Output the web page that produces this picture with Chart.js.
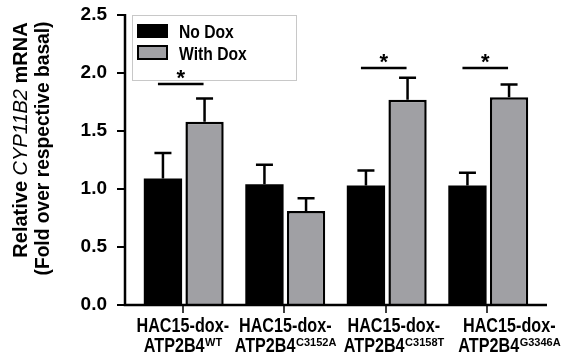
<!DOCTYPE html>
<html>
<head>
<meta charset="utf-8">
<script src="https://cdn.jsdelivr.net/npm/chart.js@4"></script>
<style>
  html, body { margin: 0; padding: 0; background: #fff; }
</style>
</head>
<body>
<canvas id="myChart" width="567" height="361"></canvas>
<script>
// data
const groupLine1 = "HAC15-dox-";
const groupLine2 = "ATP2B4";
const variants = ["WT", "C3152A", "C3158T", "G3346A"];
const seriesNames = ["No Dox", "With Dox"];
const noDox = [1.09, 1.04, 1.03, 1.03];
const withDox = [1.58, 0.81, 1.77, 1.79];
const noDoxErr = [0.22, 0.17, 0.13, 0.11];
const withDoxErr = [0.20, 0.11, 0.19, 0.11];
const sigGroups = [0, 2, 3];
const sigLevels = [1.905, 2.043, 2.043];
const yTicks = [0, 0.5, 1.0, 1.5, 2.0, 2.5];

const FONT = '"Liberation Sans", Arial, sans-serif';
const GREY = "#a0a0a4";
// labels in the figure are not exactly centred under the groups
const labelNudge = [-1, 0, 7, 21];

function drawText(ctx, text, x, y, font, sx, align) {
  ctx.save();
  ctx.font = font;
  const w = ctx.measureText(text).width * sx;
  let left = x;
  if (align === "center") left = x - w / 2;
  else if (align === "right") left = x - w;
  ctx.translate(left, y);
  ctx.scale(sx, 1);
  ctx.textAlign = "left";
  ctx.fillStyle = "#000";
  ctx.fillText(text, 0, 0);
  ctx.restore();
  return w;
}

const decorations = {
  id: "decorations",
  afterDatasetsDraw(chart) {
    const ctx = chart.ctx;
    const y = chart.scales.y;
    const x = chart.scales.x;
    const metaA = chart.getDatasetMeta(0);
    const metaB = chart.getDatasetMeta(1);
    ctx.save();
    ctx.strokeStyle = "#000";

    // error bars (upper only)
    ctx.lineWidth = 2.5;
    [[metaA, noDox, noDoxErr], [metaB, withDox, withDoxErr]].forEach(([meta, vals, errs]) => {
      meta.data.forEach((bar, i) => {
        const top = y.getPixelForValue(vals[i]);
        const cap = y.getPixelForValue(vals[i] + errs[i]);
        ctx.beginPath();
        ctx.moveTo(bar.x, top);
        ctx.lineTo(bar.x, cap);
        ctx.moveTo(bar.x - 8.5, cap);
        ctx.lineTo(bar.x + 8.5, cap);
        ctx.stroke();
      });
    });

    // axes
    const axisX = 125;
    const y0 = y.getPixelForValue(0);
    const yTop = y.getPixelForValue(2.5);
    ctx.lineWidth = 2.5;
    ctx.beginPath();
    ctx.moveTo(axisX, yTop - 1);
    ctx.lineTo(axisX, y0 + 1.2);
    ctx.moveTo(axisX - 1.2, y0);
    ctx.lineTo(547, y0);
    ctx.stroke();
    ctx.lineWidth = 2;
    ctx.beginPath();
    yTicks.forEach(v => {
      const py = y.getPixelForValue(v);
      ctx.moveTo(axisX - 8, py);
      ctx.lineTo(axisX, py);
    });
    ctx.stroke();
    ctx.lineWidth = 1.5;
    ctx.beginPath();
    variants.forEach((v, i) => {
      const px = Math.round(x.getPixelForValue(i)) - 1;
      ctx.moveTo(px, y0);
      ctx.lineTo(px, y0 + 8);
    });
    ctx.stroke();

    // significance bars
    ctx.lineWidth = 2.5;
    sigGroups.forEach((g, k) => {
      const ly = y.getPixelForValue(sigLevels[k]);
      const x1 = metaA.data[g].x - 5;
      const x2 = metaB.data[g].x - 1;
      ctx.beginPath();
      ctx.moveTo(x1, ly);
      ctx.lineTo(x2, ly);
      ctx.stroke();
      ctx.font = "bold 22px " + FONT;
      const m = ctx.measureText("*");
      const starMid = ly - 9.5;
      const base = starMid + (m.actualBoundingBoxAscent - m.actualBoundingBoxDescent) / 2;
      ctx.textAlign = "center";
      ctx.fillStyle = "#000";
      ctx.fillText("*", (x1 + x2) / 2, base);
    });

    // category labels with superscripts
    variants.forEach((v, i) => {
      const cx = x.getPixelForValue(i) + labelNudge[i];
      drawText(ctx, groupLine1, cx, 332, "bold 21px " + FONT, 0.77, "center");
      ctx.font = "bold 21px " + FONT;
      const wMain = ctx.measureText(groupLine2).width * 0.77;
      ctx.font = "bold 11px " + FONT;
      const wSup = ctx.measureText(v).width;
      const left = cx - (wMain + wSup) / 2;
      drawText(ctx, groupLine2, left, 352, "bold 21px " + FONT, 0.77, "left");
      drawText(ctx, v, left + wMain + 0.5, 346, "bold 11px " + FONT, 1, "left");
    });

    // legend
    ctx.lineWidth = 1;
    ctx.strokeStyle = "#c8c8c8";
    ctx.strokeRect(132.5, 15.5, 164, 65);
    ctx.fillStyle = "#000";
    ctx.fillRect(137, 24, 31, 14);
    ctx.fillStyle = GREY;
    ctx.fillRect(138, 46, 29, 13);
    ctx.strokeStyle = "#000";
    ctx.lineWidth = 2;
    ctx.strokeRect(138, 46, 29, 13);
    drawText(ctx, seriesNames[0], 179, 37.5, "bold 18px " + FONT, 0.87, "left");
    drawText(ctx, seriesNames[1], 179, 59.5, "bold 18px " + FONT, 0.87, "left");

    // y-axis title, rotated, with italic gene name
    const parts = [
      ["Relative ", "bold 20px " + FONT],
      ["CYP11B2", "italic 20px " + FONT],
      [" mRNA", "bold 20px " + FONT]
    ];
    ctx.save();
    ctx.translate(27, 140);
    ctx.rotate(-Math.PI / 2);
    let total = 0;
    parts.forEach(p => { ctx.font = p[1]; total += ctx.measureText(p[0]).width; });
    let pos = -total / 2;
    ctx.fillStyle = "#000";
    ctx.textAlign = "left";
    parts.forEach(p => {
      ctx.font = p[1];
      ctx.fillText(p[0], pos, 0);
      pos += ctx.measureText(p[0]).width;
    });
    ctx.restore();
    ctx.save();
    ctx.translate(49, 148.5);
    ctx.rotate(-Math.PI / 2);
    drawText(ctx, "(Fold over respective basal)", 0, 0, "bold 20px " + FONT, 0.96, "center");
    ctx.restore();

    ctx.restore();
  }
};

const data = {
  labels: variants,
  datasets: [
    {
      label: seriesNames[0],
      data: noDox,
      backgroundColor: "#000",
      borderWidth: 0,
      categoryPercentage: 0.82,
      barPercentage: 0.92
    },
    {
      label: seriesNames[1],
      data: withDox,
      backgroundColor: GREY,
      borderColor: "#000",
      borderWidth: 2.5,
      categoryPercentage: 0.82,
      barPercentage: 0.92
    }
  ]
};

const config = {
  type: "bar",
  data: data,
  options: {
    responsive: false,
    animation: false,
    layout: { padding: { top: 15, right: 28, bottom: 56, left: 0 } },
    plugins: {
      legend: { display: false },
      tooltip: { enabled: false }
    },
    scales: {
      x: { display: false },
      y: {
        min: 0,
        max: 2.5,
        afterFit(scale) {
          scale.width = 133;
          scale.paddingTop = 0;
          scale.paddingBottom = 0;
        },
        afterBuildTicks(scale) { scale.ticks = yTicks.map(v => ({ value: v })); },
        ticks: {
          padding: 18,
          color: "#000",
          font: { family: FONT, size: 19, weight: "bold" },
          callback: v => Number(v).toFixed(1)
        },
        grid: { display: false },
        border: { display: false }
      }
    }
  },
  plugins: [decorations]
};

const myChart = new Chart(document.getElementById("myChart"), config);
</script>
</body>
</html>
